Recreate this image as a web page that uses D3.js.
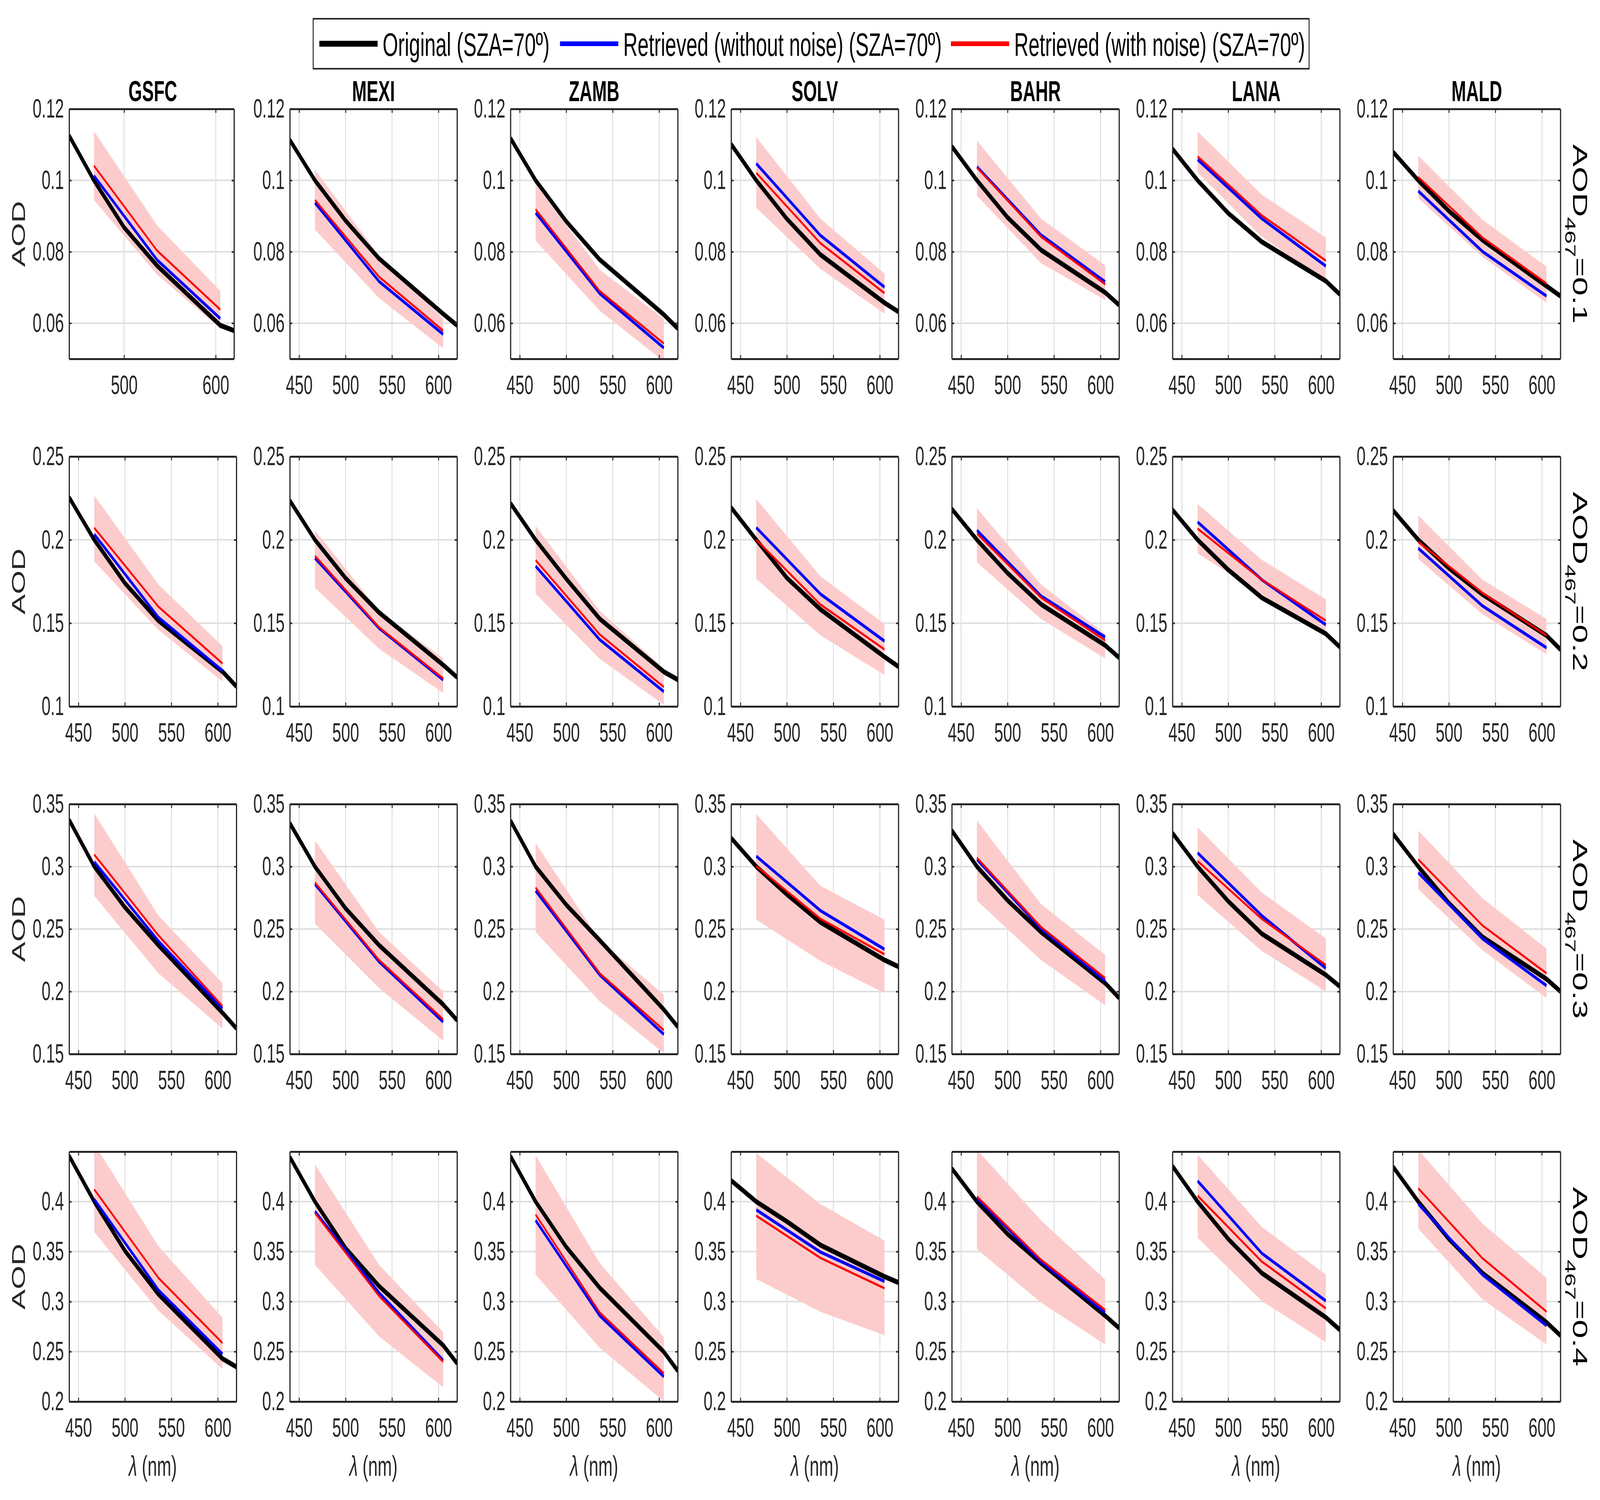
<!DOCTYPE html>
<html><head><meta charset="utf-8">
<script src="https://cdn.jsdelivr.net/npm/d3@7"></script>
<style>html,body{margin:0;padding:0;background:#fff;overflow:hidden;} svg{display:block;font-family:"Liberation Sans",Arial,Helvetica,sans-serif;}</style>
</head><body><svg id="chart"></svg>
<script>
// ---------------- DATA ----------------
const sites = ["GSFC","MEXI","ZAMB","SOLV","BAHR","LANA","MALD"];
const aodLevels = ["0.1","0.2","0.3","0.4"];
const wlOriginal = [440, 467, 500, 536, 605, 620];
const wlRetrieved = [467, 536, 605];
const xTicks = [450, 500, 550, 600];
const xTicksGSFCTop = [500, 600];
const yDomains = [[0.05, 0.12], [0.1, 0.25], [0.15, 0.35], [0.2, 0.45]];
const yTicks = [[0.06, 0.08, 0.1, 0.12], [0.1, 0.15, 0.2, 0.25], [0.15, 0.2, 0.25, 0.3, 0.35], [0.2, 0.25, 0.3, 0.35, 0.4]];
const legendLabels = ["Original (SZA=70º)", "Retrieved (without noise) (SZA=70º)", "Retrieved (with noise) (SZA=70º)"];

// original[row][site] at wlOriginal
const original = [
  [[0.1125,0.1,0.0868,0.0761,0.0594,0.0579],[0.1113,0.1,0.0887,0.0781,0.0626,0.0594],[0.1118,0.1,0.0885,0.0778,0.0624,0.0585],[0.1101,0.1,0.0892,0.0792,0.0657,0.0632],[0.1095,0.1,0.0896,0.0805,0.0686,0.0651],[0.1088,0.1,0.0908,0.0828,0.0718,0.0681],[0.1079,0.1,0.0914,0.0833,0.0704,0.0676]],
  [[0.2254,0.2,0.174,0.1515,0.1209,0.1120],[0.2235,0.2,0.1770,0.1564,0.1249,0.1175],[0.2219,0.2,0.1766,0.1526,0.1208,0.1161],[0.2193,0.2,0.1771,0.1583,0.1298,0.1239],[0.2185,0.2,0.180,0.1613,0.1367,0.1293],[0.218,0.2,0.182,0.1653,0.1436,0.1357],[0.2176,0.2,0.183,0.1673,0.1426,0.1342]],
  [[0.3373,0.3,0.2674,0.2371,0.183,0.1705],[0.3347,0.3,0.2665,0.2371,0.1896,0.177],[0.3367,0.3,0.2694,0.241,0.1856,0.1718],[0.3228,0.3,0.2777,0.2555,0.2252,0.2199],[0.3288,0.3,0.2729,0.2476,0.2067,0.1949],[0.3268,0.3,0.2722,0.2463,0.2133,0.2041],[0.3261,0.3,0.2707,0.2437,0.21,0.2001]],
  [[0.4457,0.4,0.3508,0.3074,0.2429,0.2347],[0.4446,0.4,0.3535,0.3155,0.2563,0.2382],[0.4454,0.4,0.3546,0.3138,0.2497,0.2308],[0.4211,0.4,0.3801,0.3566,0.325,0.3191],[0.4331,0.4,0.3676,0.3385,0.2859,0.2735],[0.4355,0.4,0.3626,0.3286,0.2842,0.2719],[0.4347,0.4,0.3626,0.3286,0.2793,0.2661]]
];
// retrieved without noise (blue) at wlRetrieved
const retrievedNoNoise = [
  [[0.1013,0.0777,0.0613],[0.0937,0.0717,0.0569],[0.0909,0.0683,0.0531],[0.1047,0.0846,0.0701],[0.1038,0.0847,0.0716],[0.1058,0.0893,0.0760],[0.0970,0.0801,0.0676]],
  [[0.2033,0.1535,0.1214],[0.189,0.147,0.116],[0.1842,0.1401,0.1089],[0.2073,0.1675,0.1392],[0.2057,0.1663,0.1416],[0.2107,0.1761,0.149],[0.1949,0.1604,0.1352]],
  [[0.3037,0.2404,0.1863],[0.2859,0.2239,0.1757],[0.2806,0.2133,0.1658],[0.3083,0.2648,0.2338],[0.3057,0.2503,0.2087],[0.311,0.2608,0.2186],[0.2951,0.2423,0.2047]],
  [[0.4023,0.3116,0.2476],[0.3903,0.3089,0.2414],[0.3813,0.2859,0.225],[0.3918,0.3496,0.3203],[0.4035,0.3401,0.2891],[0.4207,0.3484,0.3007],[0.3977,0.327,0.276]]
];
// retrieved with noise (red) at wlRetrieved
const retrievedNoise = [
  [[0.1041,0.0803,0.0638],[0.0945,0.0730,0.0579],[0.0919,0.0690,0.0543],[0.1021,0.0824,0.0684],[0.1036,0.0842,0.0709],[0.1067,0.0902,0.0775],[0.1009,0.0840,0.0711]],
  [[0.2072,0.1599,0.1258],[0.1904,0.1475,0.1168],[0.1878,0.1432,0.1117],[0.2,0.1612,0.1342],[0.2037,0.1653,0.1396],[0.2067,0.1761,0.1515],[0.1988,0.1682,0.1426]],
  [[0.3096,0.245,0.1883],[0.2872,0.2252,0.1777],[0.2832,0.2146,0.1691],[0.3004,0.2582,0.2298],[0.307,0.2516,0.2107],[0.3044,0.2582,0.2212],[0.3057,0.2529,0.2146]],
  [[0.4122,0.3238,0.2586],[0.3887,0.3056,0.2398],[0.387,0.2891,0.2283],[0.3859,0.3437,0.3133],[0.4051,0.3418,0.2916],[0.4059,0.3401,0.2933],[0.4133,0.3434,0.29]]
];
// noise band lower / upper at wlRetrieved
const bandLow = [
  [[0.0945,0.0736,0.0585],[0.0862,0.0670,0.0530],[0.0831,0.0635,0.0493],[0.0923,0.0752,0.0627],[0.0957,0.0768,0.0665],[0.1022,0.0842,0.0718],[0.0950,0.0786,0.0657]],
  [[0.187,0.146,0.115],[0.1712,0.1347,0.1081],[0.1677,0.1286,0.101],[0.1766,0.1427,0.1189],[0.1865,0.1525,0.1288],[0.1919,0.1673,0.1446],[0.1885,0.1554,0.1313]],
  [[0.2766,0.2146,0.1704],[0.2542,0.2028,0.1606],[0.2476,0.1922,0.1507],[0.2575,0.2245,0.1988],[0.2727,0.2252,0.1889],[0.2773,0.2325,0.2001],[0.2819,0.2331,0.1949]],
  [[0.3695,0.291,0.2324],[0.3368,0.2653,0.2143],[0.327,0.2538,0.2003],[0.3226,0.2898,0.2664],[0.3525,0.299,0.2571],[0.364,0.3007,0.2595],[0.373,0.3023,0.2571]]
];
const bandHigh = [
  [[0.1138,0.0874,0.0690],[0.1030,0.0789,0.0613],[0.0989,0.0750,0.0612],[0.1121,0.0893,0.0739],[0.1111,0.0893,0.0762],[0.1137,0.0960,0.0840],[0.1069,0.0890,0.0758]],
  [[0.2266,0.1732,0.1362],[0.2057,0.1574,0.1288],[0.2083,0.1573,0.1229],[0.2245,0.1781,0.1495],[0.219,0.1732,0.1436],[0.2215,0.188,0.1643],[0.2146,0.1761,0.1525]],
  [[0.3426,0.2608,0.2067],[0.3208,0.2476,0.2],[0.3189,0.241,0.1975],[0.342,0.2846,0.2575],[0.3367,0.27,0.2292],[0.3314,0.2793,0.2424],[0.3288,0.2747,0.2344]],
  [[0.4577,0.3555,0.284],[0.4372,0.3368,0.2694],[0.4462,0.3385,0.2645],[0.4485,0.3977,0.3609],[0.452,0.3812,0.322],[0.447,0.3747,0.327],[0.452,0.378,0.3237]]
];

// ---------------- LAYOUT ----------------
const W = 6754, H = 3841;
const colLeft0 = 292, colStep = 931.5, panelW = 706, panelWFirst = 696;
const rowTop0 = 279, rowStep = 890, panelH = 640;
const TXT = "#262626";
const colors = {orig: "#000000", blue: "#0000ff", red: "#ff0000", band: "#fccccc", grid: "#dfdfdf"};

const vw = window.innerWidth || document.documentElement.clientWidth || W;
const vh = window.innerHeight || document.documentElement.clientHeight || H;
const svg = d3.select("#chart").attr("width", vw).attr("height", vh)
  .attr("viewBox", `0 0 ${W} ${H}`).attr("preserveAspectRatio", "none");
svg.append("rect").attr("width", W).attr("height", H).attr("fill", "#fff");
const defs = svg.append("defs");

// legend
const leg = svg.append("g");
leg.append("rect").attr("x", 1322).attr("y", 48).attr("width", 4204).attr("height", 128)
  .attr("fill", "#fff").attr("stroke", TXT).attr("stroke-width", 4);
const legItems = [
  {x: 1348, color: colors.orig, w: 15},
  {x: 2364, color: colors.blue, w: 12},
  {x: 4014, color: colors.red, w: 12}
];
legItems.forEach((it, i) => {
  leg.append("line").attr("x1", it.x).attr("x2", it.x + 246).attr("y1", 112).attr("y2", 112)
    .attr("stroke", it.color).attr("stroke-width", it.w);
  leg.append("text").attr("x", it.x + 267).attr("y", 112).attr("dy", "0.37em")
    .attr("font-size", 84).attr("fill", "#000").text(legendLabels[i]);
});

const fmtY = d => String(+d.toFixed(2));

for (let r = 0; r < 4; r++) {
  for (let c = 0; c < 7; c++) {
    const x0 = colLeft0 + colStep * c;
    const y0 = rowTop0 + rowStep * r;
    const w = (r === 0 && c === 0) ? panelWFirst : panelW;
    const x = d3.scaleLinear().domain([440, 620]).range([x0, x0 + w]);
    const y = d3.scaleLinear().domain(yDomains[r]).range([y0 + panelH, y0]);
    const xt = (r === 0 && c === 0) ? xTicksGSFCTop : xTicks;
    const g = svg.append("g");
    const cid = `clip-${r}-${c}`;
    defs.append("clipPath").attr("id", cid).append("rect")
      .attr("x", x0).attr("y", y0).attr("width", w).attr("height", panelH);

    // grid
    const grid = g.append("g").attr("stroke", colors.grid).attr("stroke-width", 4);
    grid.selectAll("line.v").data(xt).join("line").attr("class", "v")
      .attr("x1", d => x(d)).attr("x2", d => x(d)).attr("y1", y0).attr("y2", y0 + panelH);
    grid.selectAll("line.h").data(yTicks[r]).join("line").attr("class", "h")
      .attr("x1", x0).attr("x2", x0 + w).attr("y1", d => y(d)).attr("y2", d => y(d));

    const plot = g.append("g").attr("clip-path", `url(#${cid})`);
    // band
    const bandData = wlRetrieved.map((wl, i) => ({wl, lo: bandLow[r][c][i], hi: bandHigh[r][c][i]}));
    plot.append("path").datum(bandData)
      .attr("d", d3.area().x(d => x(d.wl)).y0(d => y(d.lo)).y1(d => y(d.hi)))
      .attr("fill", colors.band).attr("stroke", "none");
    const line = d3.line().x(d => x(d[0])).y(d => y(d[1]));
    plot.append("path").datum(wlOriginal.map((wl, i) => [wl, original[r][c][i]]))
      .attr("d", line).attr("fill", "none").attr("stroke", colors.orig).attr("stroke-width", 13)
      .attr("stroke-linejoin", "round");
    plot.append("path").datum(wlRetrieved.map((wl, i) => [wl, retrievedNoNoise[r][c][i]]))
      .attr("d", line).attr("fill", "none").attr("stroke", colors.blue).attr("stroke-width", 8.5)
      .attr("stroke-linejoin", "round");
    plot.append("path").datum(wlRetrieved.map((wl, i) => [wl, retrievedNoise[r][c][i]]))
      .attr("d", line).attr("fill", "none").attr("stroke", colors.red).attr("stroke-width", 6)
      .attr("stroke-linejoin", "round");

    // axes
    const styleAxis = sel => {
      sel.select(".domain").attr("stroke", TXT).attr("stroke-width", 5);
      sel.selectAll(".tick line").attr("stroke", TXT).attr("stroke-width", 4);
      sel.selectAll(".tick text").attr("fill", TXT).attr("font-size", 68)
        .attr("font-family", '"Liberation Sans",Arial,Helvetica,sans-serif');
    };
    g.append("g").attr("transform", `translate(0,${y0 + panelH})`)
      .call(d3.axisBottom(x).tickValues(xt).tickFormat(d3.format("d")).tickSizeInner(-10).tickSizeOuter(0).tickPadding(42))
      .call(styleAxis);
    g.append("g").attr("transform", `translate(0,${y0})`)
      .call(d3.axisTop(x).tickValues(xt).tickFormat("").tickSizeInner(-10).tickSizeOuter(0))
      .call(styleAxis);
    g.append("g").attr("transform", `translate(${x0},0)`)
      .call(d3.axisLeft(y).tickValues(yTicks[r]).tickFormat(fmtY).tickSizeInner(-10).tickSizeOuter(0).tickPadding(22))
      .call(styleAxis);
    g.append("g").attr("transform", `translate(${x0 + w},0)`)
      .call(d3.axisRight(y).tickValues(yTicks[r]).tickFormat("").tickSizeInner(-10).tickSizeOuter(0))
      .call(styleAxis);

    // titles
    if (r === 0) {
      g.append("text").attr("x", x0 + panelW / 2).attr("y", y0 - 20)
        .attr("text-anchor", "middle").attr("font-size", 74).attr("font-weight", "bold")
        .attr("fill", "#000").text(sites[c]);
    }
    if (c === 0) {
      g.append("text").attr("transform", `translate(105,${y0 + panelH / 2}) rotate(-90)`)
        .attr("text-anchor", "middle").attr("font-size", 78).attr("fill", TXT).text("AOD");
    }
    if (r === 3) {
      const t = g.append("text").attr("x", x0 + panelW / 2).attr("y", y0 + panelH + 190)
        .attr("text-anchor", "middle").attr("font-size", 72).attr("fill", TXT);
      t.append("tspan").attr("font-style", "italic").text("λ");
      t.append("tspan").text(" (nm)");
    }
    if (c === 6) {
      const t = g.append("text").attr("transform", `translate(6641,${y0 + panelH / 2}) rotate(90)`)
        .attr("text-anchor", "middle").attr("font-size", 86).attr("fill", "#000");
      t.append("tspan").text("AOD");
      t.append("tspan").attr("font-size", 62).attr("dy", 34).text("467");
      t.append("tspan").attr("dy", -34).text("=" + aodLevels[r]);
    }
  }
}
</script>
</body></html>
